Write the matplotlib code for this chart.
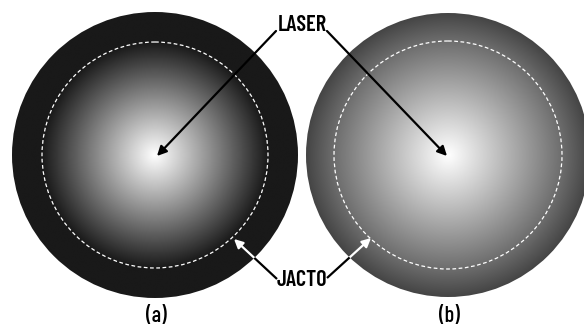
import numpy as np
import matplotlib
matplotlib.use("Agg")
import matplotlib.pyplot as plt
from matplotlib.patches import Circle

# panel geometry in pixel units (x right, y down)
panel_labels = ["(a)", "(b)"]
centers = [(155, 155), (448, 155)]
outer_r = [143, 142]
dash_r = [113, 114]
# grey level at the centre, at the dashed ring and at the outer rim
centre_grey = [1.0, 1.0]
ring_grey = [0.10, 0.43]
rim_grey = [0.10, 0.27]
laser_text = "LASER"
jacto_text = "JACTO"

W, H = 584, 329
fig = plt.figure(figsize=(W / 100, H / 100), dpi=100)
ax = fig.add_axes([0, 0, 1, 1])
ax.set_xlim(0, W)
ax.set_ylim(H, 0)
ax.set_aspect("auto")
ax.axis("off")

font = dict(family=["Barlow Condensed", "DejaVu Sans"], fontweight=600)

laser_pos = (302, 25)
jacto_pos = (302, 280)

# black leader lines from JACTO (covered by the discs where they cross them)
jacto_tips = [(234, 239), (371, 238)]
jacto_starts = [(277, 279), (327, 278)]
for s, t in zip(jacto_starts, jacto_tips):
    ax.plot([s[0], t[0]], [s[1], t[1]], color="black", lw=1.6, zorder=1,
            solid_capstyle="butt")

for i, (cx, cy) in enumerate(centers):
    R = outer_r[i]
    xs = np.linspace(cx - R, cx + R, 600)
    ys = np.linspace(cy - R, cy + R, 600)
    X, Y = np.meshgrid(xs, ys)
    r = np.hypot(X - cx, Y - cy)
    rd = dash_r[i]
    inner = centre_grey[i] + (ring_grey[i] - centre_grey[i]) * (r / rd)
    outer = ring_grey[i] + (rim_grey[i] - ring_grey[i]) * (r - rd) / (R - rd)
    img = np.where(r <= rd, inner, outer)
    img = np.clip(img, 0, 1)
    disc = Circle((cx, cy), R, transform=ax.transData, facecolor="none", edgecolor="none")
    ax.add_patch(disc)
    im = ax.imshow(img, cmap="gray", vmin=0, vmax=1, extent=(cx - R, cx + R, cy + R, cy - R),
                   interpolation="bilinear", zorder=2)
    im.set_clip_path(disc)
    ax.add_patch(Circle((cx, cy), rd, facecolor="none", edgecolor="white", lw=0.9,
                        ls=(0, (3, 2)), zorder=3))
    ax.text(cx + 1, 316, panel_labels[i], ha="center", va="center", fontsize=16,
            family=["Barlow Condensed", "DejaVu Sans"], fontweight=500)

    # white arrow heads inside the disc
    arr = ax.annotate("", xy=jacto_tips[i], xytext=jacto_starts[i],
                      arrowprops=dict(arrowstyle="-|>", color="white", lw=1.6,
                                      mutation_scale=13, shrinkA=0, shrinkB=0),
                      zorder=4)
    arr.arrow_patch.set_clip_path(disc)

# LASER arrows pointing to the centres
laser_starts = [(276, 31), (327, 31)]
laser_tips = [(157, 156), (447, 156)]
for s, t in zip(laser_starts, laser_tips):
    ax.annotate("", xy=t, xytext=s,
                arrowprops=dict(arrowstyle="-|>", color="black", lw=1.6,
                                mutation_scale=14, shrinkA=0, shrinkB=0),
                zorder=5)

ax.text(*laser_pos, laser_text, ha="center", va="center", fontsize=16, **font)
ax.text(*jacto_pos, jacto_text, ha="center", va="center", fontsize=16, **font)

fig.savefig("out.png", dpi=100, facecolor="white")
